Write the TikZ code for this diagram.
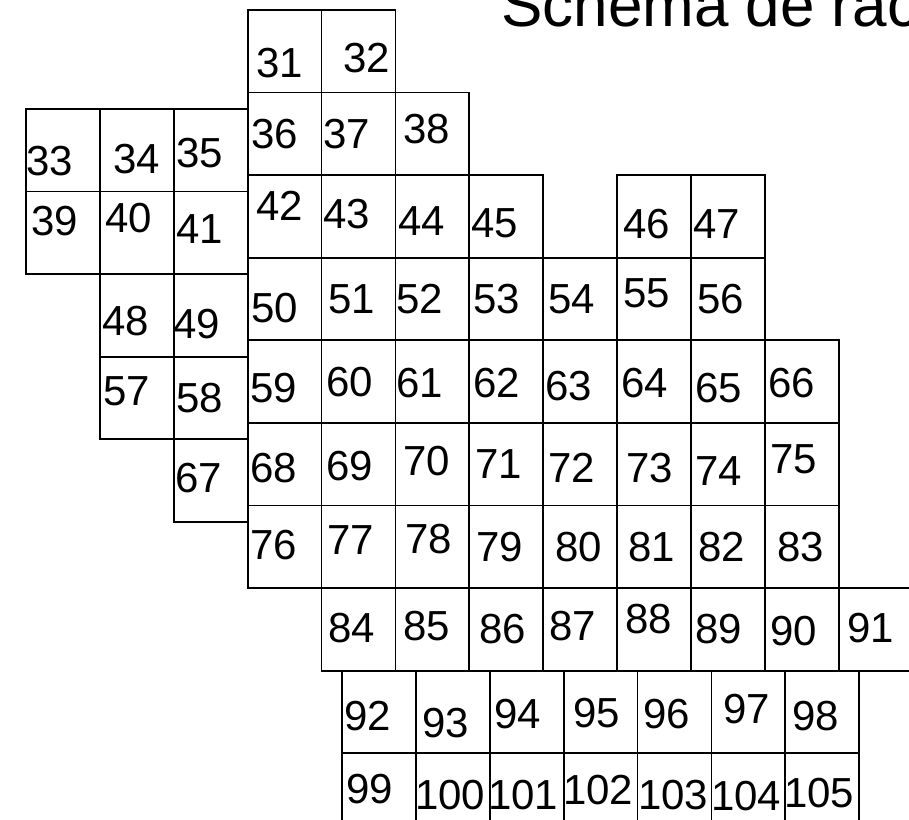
\documentclass[tikz,border=0pt]{standalone}
\usepackage{fontspec}
\setmainfont{Liberation Sans}
\tikzset{
  cellbox/.style={draw=black, line width=1.8pt, rectangle, inner sep=0pt,
    minimum width=73.9pt, minimum height=82.6pt, anchor=north west},
  num/.style={inner sep=0pt, anchor=base west, font=\fontsize{42}{42}\selectfont},
  titletext/.style={inner sep=0pt, anchor=base west, font=\fontsize{62}{62}\selectfont}
}
\newcommand{\mycell}[5]{%
  \node[cellbox] (c#1) at (#2,#3) {};
  \node[num] (t#1) at (#4,#5) {#1};
}
\begin{document}
\begin{tikzpicture}[x=1pt,y=-1pt]
\useasboundingbox (0,0) rectangle (909,819);
\clip (0,0) rectangle (909,819);
% columns: 25, 98.9, 172.8, 246.7, 320.6, 394.5, 468.4, 542.3, 616.2, 690.1, 764, 837.9
% rows: 9, 91.6, 174.2, 256.8, 339.4, 422, 504.6, 587.2, 669.8, 752.4
% left rows: 108, 190.6, 273.2, 355.8, 438.4
\node[titletext] (title) at (501,27) {Schema de racordare};
% row 0
\mycell{31}{246.7}{9}{256}{77}
\mycell{32}{320.6}{9}{343}{72}
% row 1
\mycell{36}{246.7}{91.6}{251}{148}
\mycell{37}{320.6}{91.6}{323}{148}
\mycell{38}{394.5}{91.6}{403}{143}
% left block
\mycell{33}{25}{108}{26}{175}
\mycell{34}{98.9}{108}{113}{173}
\mycell{35}{172.8}{108}{176}{167}
\mycell{39}{25}{190.6}{31}{235}
\mycell{40}{98.9}{190.6}{105}{232}
\mycell{41}{172.8}{190.6}{176}{243}
\mycell{48}{98.9}{273.2}{102}{335}
\mycell{49}{172.8}{273.2}{173}{338}
\mycell{57}{98.9}{355.8}{103}{405}
\mycell{58}{172.8}{355.8}{176}{412}
\mycell{67}{172.8}{438.4}{175}{492}
% row 2
\mycell{42}{246.7}{174.2}{256}{220}
\mycell{43}{320.6}{174.2}{323}{228}
\mycell{44}{394.5}{174.2}{398}{235}
\mycell{45}{468.4}{174.2}{471}{237}
\mycell{46}{616.2}{174.2}{623}{238}
\mycell{47}{690.1}{174.2}{693}{238}
% row 3
\mycell{50}{246.7}{256.8}{251}{322}
\mycell{51}{320.6}{256.8}{328}{313}
\mycell{52}{394.5}{256.8}{396}{313}
\mycell{53}{468.4}{256.8}{473}{313}
\mycell{54}{542.3}{256.8}{548}{313}
\mycell{55}{616.2}{256.8}{623}{307}
\mycell{56}{690.1}{256.8}{697}{313}
% row 4
\mycell{59}{246.7}{339.4}{250}{402}
\mycell{60}{320.6}{339.4}{326}{396}
\mycell{61}{394.5}{339.4}{396}{397}
\mycell{62}{468.4}{339.4}{473}{397}
\mycell{63}{542.3}{339.4}{545}{400}
\mycell{64}{616.2}{339.4}{621}{397}
\mycell{65}{690.1}{339.4}{695}{402}
\mycell{66}{764}{339.4}{768}{397}
% row 5
\mycell{68}{246.7}{422}{250}{482}
\mycell{69}{320.6}{422}{326}{480}
\mycell{70}{394.5}{422}{403}{475}
\mycell{71}{468.4}{422}{475}{478}
\mycell{72}{542.3}{422}{548}{482}
\mycell{73}{616.2}{422}{626}{482}
\mycell{74}{690.1}{422}{695}{485}
\mycell{75}{764}{422}{770}{473}
% row 6
\mycell{76}{246.7}{504.6}{250}{559}
\mycell{77}{320.6}{504.6}{327}{554}
\mycell{78}{394.5}{504.6}{405}{553}
\mycell{79}{468.4}{504.6}{476}{561}
\mycell{80}{542.3}{504.6}{555}{561}
\mycell{81}{616.2}{504.6}{628}{561}
\mycell{82}{690.1}{504.6}{698}{561}
\mycell{83}{764}{504.6}{777}{561}
% row 7
\mycell{84}{320.6}{587.2}{328}{642}
\mycell{85}{394.5}{587.2}{403}{640}
\mycell{86}{468.4}{587.2}{479}{643}
\mycell{87}{542.3}{587.2}{549}{640}
\mycell{88}{616.2}{587.2}{625}{633}
\mycell{89}{690.1}{587.2}{695}{643}
\mycell{90}{764}{587.2}{770}{645}
\mycell{91}{837.9}{587.2}{847}{642}
% row 8
\mycell{92}{341}{669.8}{344}{730}
\mycell{93}{414.9}{669.8}{422}{737}
\mycell{94}{488.8}{669.8}{494}{728}
\mycell{95}{562.7}{669.8}{573}{727}
\mycell{96}{636.6}{669.8}{643}{728}
\mycell{97}{710.5}{669.8}{723}{723}
\mycell{98}{784.4}{669.8}{792}{730}
% row 9
\mycell{99}{341}{752.4}{346}{803}
\mycell{100}{414.9}{752.4}{415}{809}
\mycell{101}{488.8}{752.4}{488}{809}
\mycell{102}{562.7}{752.4}{563}{804}
\mycell{103}{636.6}{752.4}{638}{809}
\mycell{104}{710.5}{752.4}{711}{810}
\mycell{105}{784.4}{752.4}{784}{807}
\end{tikzpicture}
\end{document}
